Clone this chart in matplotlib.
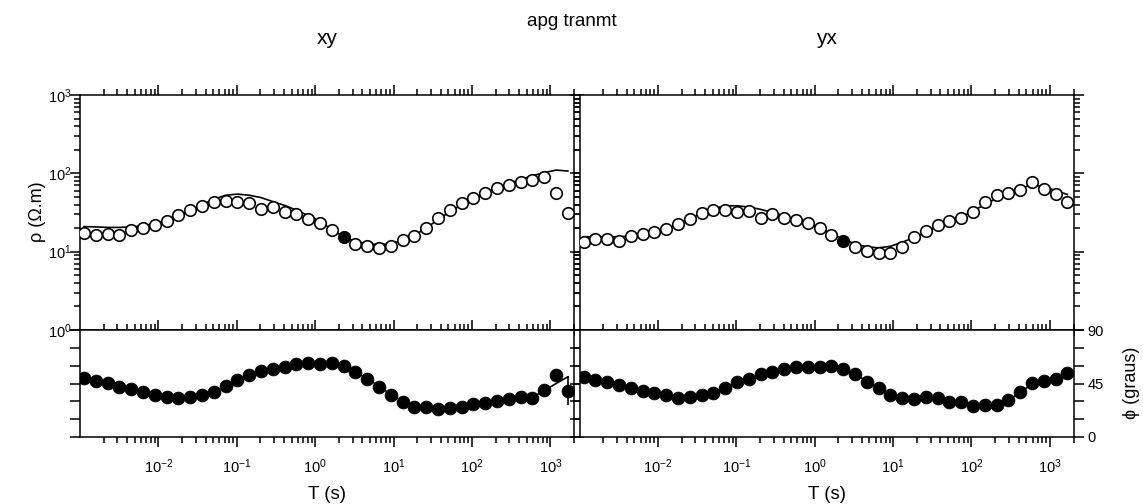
import matplotlib
matplotlib.use('Agg')
import matplotlib.pyplot as plt
from matplotlib.ticker import LogLocator, FixedLocator, NullFormatter, MultipleLocator

plt.rcParams['font.family'] = ['Liberation Sans', 'DejaVu Sans']
plt.rcParams['mathtext.fontset'] = 'custom'
plt.rcParams['mathtext.rm'] = 'Liberation Sans'
plt.rcParams['mathtext.it'] = 'Liberation Sans:italic'

# ---------------- data ----------------
period = [0.001127, 0.001594, 0.002254, 0.003188, 0.004508, 0.006375, 0.009016,
          0.01275, 0.01803, 0.0255, 0.03606, 0.051, 0.07213, 0.102, 0.1443,
          0.204, 0.2885, 0.408, 0.5771, 0.8161, 1.154, 1.632, 2.308, 3.264,
          4.617, 6.529, 9.233, 13.06, 18.47, 26.12, 36.93, 52.23, 73.87,
          104.5, 147.7, 208.9, 295.5, 417.8, 590.9, 835.7, 1182, 1671]

rho_xy = [17.5, 16.3, 16.8, 16.2, 18.7, 19.9, 21.9, 24.6, 29.4, 33.7, 38.6, 43.5,
          44.8, 42.7, 41.4, 34.7, 36.8, 32.4, 30.0, 26.1, 23.2, 18.9, 15.3, 12.4,
          11.7, 11.0, 11.8, 14.0, 16.0, 19.9, 27.2, 34.0, 42.2, 48.0, 56.6, 64.4,
          71.0, 78.2, 82.2, 89.0, 56.6, 31.4]
rho_xy_model = [20.9, 20.7, 20.4, 20.4, 20.7, 21.4, 22.9, 25.1, 28.8, 33.9, 39.8, 46.8,
                52.5, 54.3, 52.5, 49.0, 43.6, 38.9, 33.9, 28.8, 24.5, 19.1, 15.5, 13.5,
                12.6, 12.3, 12.6, 14.0, 16.2, 20.0, 25.7, 32.4, 39.8, 47.9, 56.2, 64.6,
                74.1, 83.2, 93.3, 102.0, 110.0, 107.0]
phi_xy = [49.4, 47.4, 45.2, 42.3, 40.1, 37.6, 35.1, 33.6, 32.8, 33.4, 35.1, 37.6,
          42.9, 47.9, 51.9, 55.8, 57.5, 59.1, 61.1, 62.0, 61.4, 62.5, 59.7, 54.9,
          48.5, 42.3, 35.3, 29.2, 25.5, 25.5, 23.3, 24.1, 25.5, 27.8, 28.4, 30.3,
          32.0, 33.9, 32.6, 39.5, 51.9, 38.9]
phi_xy_model = [49.5, 47.5, 45.3, 42.6, 40.0, 37.6, 35.3, 33.7, 33.0, 33.5, 35.2, 38.0,
                42.5, 47.5, 51.8, 55.5, 58.0, 59.8, 61.0, 61.8, 62.0, 61.5, 59.5, 55.0,
                49.0, 42.5, 35.8, 30.0, 26.5, 25.0, 24.3, 24.5, 25.5, 27.0, 28.6, 30.2,
                31.8, 33.3, 33.5, 39.0, 45.0, 50.6]
phi_xy_err_idx = 41
phi_xy_err = 12.0

rho_yx = [13.4, 14.4, 14.5, 13.7, 15.8, 16.7, 18.0, 19.5, 22.4, 26.1, 30.9, 34.0,
          34.0, 32.4, 33.0, 26.7, 30.2, 26.7, 25.4, 23.4, 20.2, 16.3, 13.7, 11.6,
          10.3, 9.7, 9.5, 11.4, 15.5, 18.5, 21.9, 24.6, 26.7, 32.4, 42.7, 52.8,
          55.6, 61.2, 78.2, 63.1, 54.0, 43.5]
rho_yx_model = [15.5, 15.5, 15.5, 15.5, 15.8, 16.6, 17.8, 19.5, 22.4, 26.3, 30.9, 35.5,
                38.5, 38.5, 37.2, 34.7, 31.6, 28.8, 25.7, 22.9, 20.0, 17.0, 14.5, 12.6,
                11.5, 11.2, 11.7, 13.2, 15.1, 17.8, 20.9, 24.0, 27.5, 33.1, 39.8, 47.9,
                56.2, 64.6, 70.8, 67.6, 60.3, 53.7]
phi_yx = [50.2, 47.9, 45.9, 43.4, 41.4, 38.9, 36.8, 35.1, 33.1, 33.4, 35.1, 36.8,
          41.0, 45.9, 48.8, 53.0, 54.9, 56.9, 58.6, 59.1, 59.1, 60.0, 56.9, 53.0,
          46.3, 41.0, 35.3, 32.5, 32.0, 33.4, 32.5, 29.6, 29.1, 26.3, 26.9, 26.9,
          31.1, 37.6, 45.6, 47.3, 48.5, 53.6]
phi_yx_model = [50.0, 47.9, 45.8, 43.5, 41.3, 39.0, 36.8, 35.0, 33.5, 33.5, 35.0, 37.2,
                41.0, 45.5, 49.2, 52.6, 55.0, 57.0, 58.4, 59.2, 59.5, 59.3, 57.0, 52.8,
                46.8, 40.8, 35.6, 32.6, 32.0, 32.4, 31.8, 30.0, 28.6, 27.2, 26.8, 27.5,
                31.0, 37.5, 44.5, 47.5, 49.5, 53.0]

filled_idx = 22

title = 'apg tranmt'
panel_titles = ['xy', 'yx']
rho_ticks = [1, 10, 100, 1000]
phi_ticks = [0, 45, 90]
x_ticks = [1e-2, 1e-1, 1e0, 1e1, 1e2, 1e3]

# ---------------- figure ----------------
W, H = 1143, 504
fig = plt.figure(figsize=(W / 100, H / 100), dpi=100)

def fx(p):
    return p / W

def fy(p):
    return 1 - p / H

lefts = [80, 579.5]
pw = 494
top_top, top_bot, bot_bot = 95, 330, 437

LW = 1.1
tick_kw = dict(direction='out', width=LW, colors='black', labelsize=10.5)

def style_x(ax, labels):
    ax.set_xscale('log')
    ax.set_xlim(1e-3, 2000)
    ax.xaxis.set_major_locator(FixedLocator(x_ticks))
    ax.xaxis.set_minor_locator(LogLocator(base=10, subs=range(2, 10), numticks=30))
    ax.xaxis.set_minor_formatter(NullFormatter())
    ax.tick_params(axis='x', which='major', length=7, top=True, bottom=True,
                   labelbottom=labels, labeltop=False, pad=7.5, **tick_kw)
    ax.tick_params(axis='x', which='minor', length=4, top=True, bottom=True, **tick_kw)

axes_rho, axes_phi = [], []
for k in range(2):
    x0 = fx(lefts[k])
    ax1 = fig.add_axes([x0, fy(top_bot), pw / W, (top_bot - top_top) / H])
    ax2 = fig.add_axes([x0, fy(bot_bot), pw / W, (bot_bot - top_bot) / H])
    for ax in (ax1, ax2):
        for s in ax.spines.values():
            s.set_linewidth(LW)
    style_x(ax1, False)
    style_x(ax2, True)

    ax1.set_yscale('log')
    ax1.set_ylim(1, 1000)
    ax1.yaxis.set_major_locator(FixedLocator(rho_ticks))
    ax1.yaxis.set_minor_locator(LogLocator(base=10, subs=range(2, 10), numticks=30))
    ax1.yaxis.set_minor_formatter(NullFormatter())
    ax1.tick_params(axis='y', which='major', length=7, left=True, right=True,
                    labelleft=(k == 0), labelright=False, pad=-1, **tick_kw)
    ax1.tick_params(axis='y', which='minor', length=4, left=True, right=True, **tick_kw)

    ax2.set_ylim(0, 90)
    ax2.yaxis.set_major_locator(FixedLocator(phi_ticks))
    ax2.yaxis.set_minor_locator(MultipleLocator(15))
    ax2.tick_params(axis='y', which='major', length=7, left=True, right=True,
                    labelleft=False, labelright=(k == 1), pad=3, **tick_kw)
    ax2.tick_params(axis='y', which='minor', length=7, left=True, right=True, **tick_kw)
    axes_rho.append(ax1)
    axes_phi.append(ax2)

open_kw = dict(marker='o', ms=8.3, mfc='white', mec='black', mew=1.2, ls='none', zorder=3)
fill_kw = dict(marker='o', ms=8.3, mfc='black', mec='black', mew=1.2, ls='none', zorder=4)
phase_kw = dict(marker='o', ms=9.3, mfc='black', mec='black', mew=0.5, ls='none', zorder=3)
line_kw = dict(color='black', lw=1.2, zorder=2)

for k, (rho, rho_m, phi, phi_m) in enumerate([
        (rho_xy, rho_xy_model, phi_xy, phi_xy_model),
        (rho_yx, rho_yx_model, phi_yx, phi_yx_model)]):
    ax1, ax2 = axes_rho[k], axes_phi[k]
    ax1.plot(period, rho_m, **line_kw)
    op = [p for i, p in enumerate(period) if i != filled_idx]
    orv = [r for i, r in enumerate(rho) if i != filled_idx]
    ax1.plot(op, orv, **open_kw)
    ax1.plot([period[filled_idx]], [rho[filled_idx]], **fill_kw)
    ax2.plot(period, phi_m, **line_kw)
    ax2.plot(period, phi, **phase_kw)

axes_phi[0].errorbar([period[phi_xy_err_idx]], [phi_xy[phi_xy_err_idx]],
                     yerr=[phi_xy_err], fmt='none', ecolor='black', elinewidth=1.2,
                     capsize=0, zorder=2)

# axis labels
fig.text(fx(37), fy(212), 'ρ (Ω.m)', rotation=90, ha='center', va='center', fontsize=13)
fig.text(fx(1131), fy(383), 'ϕ (graus)', rotation=90, ha='center', va='center', fontsize=13)
for k in range(2):
    fig.text(fx(lefts[k] + pw / 2), fy(499), 'T (s)', ha='center', va='baseline',
             fontsize=13.5)

fig.text(0.5, fy(26), title, ha='center', va='baseline', fontsize=13.5)
for k in range(2):
    fig.text(fx(lefts[k] + pw / 2), fy(44), panel_titles[k], ha='center', va='baseline',
             fontsize=15)

fig.savefig('out.png', dpi=100)
